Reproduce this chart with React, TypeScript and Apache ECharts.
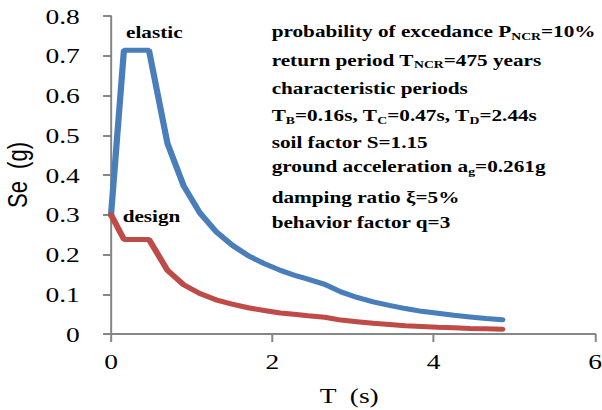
import React, { useEffect, useRef } from "react";
import * as echarts from "echarts";

// Periods T (s) and spectral accelerations Se (g)
const periods = [0, 0.16, 0.47, 0.7, 0.9, 1.1, 1.3, 1.5, 1.7, 1.9, 2.1, 2.3, 2.44, 2.65, 2.85, 3.05, 3.25, 3.45, 3.65, 3.85, 4.05, 4.25, 4.45, 4.65, 4.85];
const elastic = [0.3, 0.714, 0.714, 0.479, 0.373, 0.305, 0.258, 0.224, 0.197, 0.177, 0.16, 0.146, 0.138, 0.125, 0.106, 0.092, 0.081, 0.072, 0.064, 0.057, 0.052, 0.047, 0.043, 0.039, 0.036];
const design = [0.3, 0.238, 0.238, 0.16, 0.124, 0.102, 0.086, 0.075, 0.066, 0.059, 0.053, 0.049, 0.046, 0.042, 0.035, 0.031, 0.027, 0.024, 0.021, 0.019, 0.017, 0.016, 0.014, 0.013, 0.012];

const seriesNames = ["elastic", "design"];
const xTicks = { min: 0, max: 6, interval: 2 };
const yTicks = { min: 0, max: 0.8, interval: 0.1 };

// annotation lines: [main, subscript, main, subscript, ...]
const notes: string[][] = [
  ["probability of excedance P", "NCR", "=10%"],
  ["return period T", "NCR", "=475 years"],
  ["characteristic periods"],
  ["T", "B", "=0.16s, T", "C", "=0.47s, T", "D", "=2.44s"],
  ["soil factor S=1.15"],
  ["ground acceleration a", "g", "=0.261g"],
  ["damping ratio \u03be=5%"],
  ["behavior factor q=3"],
];
const noteY = [31.5, 60, 88.5, 115.5, 142, 166.5, 197, 222];

const SX = 602 / 482;

export default function App() {
  const ref = useRef<HTMLDivElement>(null);
  useEffect(() => {
    if (!ref.current) return;
    const chart = echarts.init(ref.current, undefined, { renderer: "svg" });
    const serif = "'Liberation Serif', 'Times New Roman', serif";
    const axisColor = "#868686";
    const rich = {
      m: { fontFamily: serif, fontWeight: "bold", fontSize: 17, lineHeight: 20, fill: "#000" },
      s: { fontFamily: serif, fontWeight: "bold", fontSize: 11, lineHeight: 8, verticalAlign: "bottom", fill: "#000" },
    };
    const noteGraphics = notes.map((parts, i) => ({
      type: "text",
      x: 217.5,
      y: noteY[i],
      style: {
        text: parts.map((p, j) => (j % 2 === 0 ? `{m|${p}}` : `{s|${p}}`)).join(""),
        rich,
        fill: "#000",
        verticalAlign: "middle",
        align: "left",
      },
    }));
    chart.setOption({
      animation: false,
      backgroundColor: "#fff",
      grid: { left: 88.9, right: 5.6, top: 16, bottom: 76, outerBoundsMode: "none", containLabel: false },
      xAxis: {
        type: "value",
        ...xTicks,
        name: "T  (s)",
        nameLocation: "middle",
        nameGap: 50,
        nameTextStyle: { fontFamily: serif, fontSize: 22, color: "#000", padding: [0, 6, 0, 0] },
        axisLine: { show: true, lineStyle: { color: axisColor, width: 2 } },
        axisTick: { show: true, length: 8, lineStyle: { color: axisColor, width: 1.6 } },
        splitLine: { show: false },
        axisLabel: { fontFamily: serif, fontSize: 22, color: "#000", margin: 16 },
      },
      yAxis: {
        type: "value",
        ...yTicks,
        name: "Se  (g)",
        nameLocation: "middle",
        nameRotate: 90,
        nameGap: 64.5,
        nameTextStyle: { fontFamily: "'Liberation Sans', Arial, sans-serif", fontSize: 22, color: "#000" },
        axisLine: { show: true, lineStyle: { color: axisColor, width: 1.6 } },
        axisTick: { show: true, length: 6.4, lineStyle: { color: axisColor, width: 2 } },
        splitLine: { show: false },
        axisLabel: {
          fontFamily: serif,
          fontSize: 22,
          color: "#000",
          margin: 25,
          formatter: (v: number) => (v === 0 ? "0" : v.toFixed(1)),
        },
      },
      series: [
        {
          name: seriesNames[0],
          type: "line",
          symbol: "none",
          data: periods.map((t, i) => [t, elastic[i]]),
          lineStyle: { color: "#4a7ebb", width: 5, cap: "round" },
        },
        {
          name: seriesNames[1],
          type: "line",
          symbol: "none",
          data: periods.map((t, i) => [t, design[i]]),
          lineStyle: { color: "#be4b48", width: 5, cap: "round" },
        },
      ],
      graphic: [
        {
          type: "text",
          x: 100.9,
          y: 32,
          style: { text: seriesNames[0], fontFamily: serif, fontWeight: "bold", fontSize: 17, fill: "#000", verticalAlign: "middle" },
        },
        {
          type: "text",
          x: 98.2,
          y: 216,
          style: { text: seriesNames[1], fontFamily: serif, fontWeight: "bold", fontSize: 17, fill: "#000", verticalAlign: "middle" },
        },
        ...noteGraphics,
      ],
    });
    return () => chart.dispose();
  }, []);
  return (
    <div style={{ position: "fixed", left: 0, top: 0, width: 602, height: 410, overflow: "hidden", background: "#fff" }}>
      <div
        ref={ref}
        style={{ width: 482, height: 410, transform: `scaleX(${SX})`, transformOrigin: "0 0" }}
      />
    </div>
  );
}
